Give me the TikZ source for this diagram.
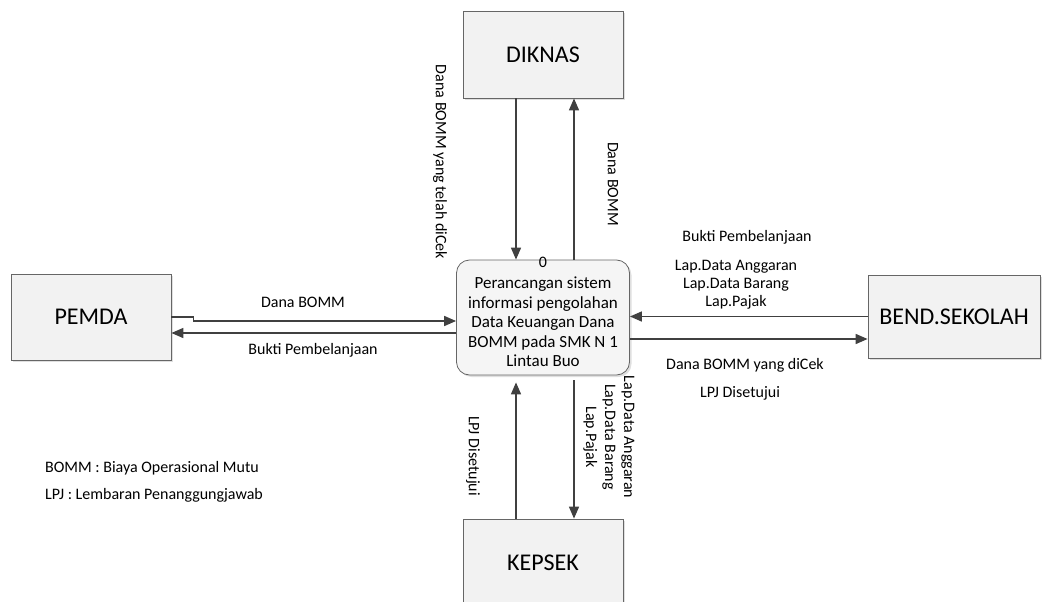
\documentclass[tikz,border=0pt]{standalone}
\usepackage{fontspec}
\setmainfont{Carlito}
\usetikzlibrary{arrows.meta,shadows}

\begin{document}
\begin{tikzpicture}[x=1pt,y=-1pt,
        entitas/.style={draw=black!60, line width=0.8pt, fill=black!5,
            drop shadow={opacity=0.25, shadow xshift=2pt, shadow yshift=-2pt},
            minimum width=160pt, minimum height=87pt, inner sep=0pt,
            font=\fontsize{24}{28}\selectfont},
        proses/.style={draw=black!60, line width=0.8pt, fill=black!4, rounded corners=13pt,
            drop shadow={opacity=0.25, shadow xshift=2pt, shadow yshift=-2pt},
            minimum width=173pt, minimum height=115pt, inner sep=0pt},
        alur/.style={draw=black!75, line width=1.6pt, -{Triangle[length=12pt,width=10pt]}},
        ket/.style={font=\fontsize{16}{19}\selectfont, align=center, inner sep=0pt}]

        \useasboundingbox (0,0) rectangle (1042,602);
        \clip (0,0) rectangle (1042,602);

        % Entitas luar
        \node[entitas] (diknas) at (543,54.5) {DIKNAS};
        \node[entitas, minimum height=86pt] (pemda) at (91,317) {PEMDA};
        \node[entitas, minimum width=172pt, minimum height=83pt] (bend) at (954,316.5) {BEND.SEKOLAH};
        \node[entitas] (kepsek) at (543,562.5) {KEPSEK};

        % Proses 0
        \node[proses] (proses) at (543,317.5) {};
        \node[ket, font=\fontsize{17}{19.5}\selectfont] (prosesteks) at (543,322)
            {Perancangan sistem\\informasi pengolahan\\Data Keuangan Dana\\BOMM pada SMK N 1\\Lintau Buo};
        \node[ket] (nol) at ([yshift=-3pt]proses.north) {0};

        % Alur DIKNAS
        \draw[alur] ([xshift=-27pt]diknas.south) -- ([xshift=-27pt]proses.north);
        \draw[alur] ([xshift=31pt]proses.north) -- ([xshift=31pt]diknas.south);

        % Alur PEMDA
        \draw[alur] (pemda.east) -- ++(22,0) |- ([yshift=-3.5pt]proses.west);
        \draw[alur] ([yshift=-15.5pt]proses.west) -- ([yshift=-16pt]pemda.east);

        % Alur BEND.SEKOLAH
        \draw[alur] (bend.west) -- (bend.west -| proses.east);
        \draw[alur] ([yshift=-21.5pt]proses.east) -- ([yshift=-22.5pt]bend.west);

        % Alur KEPSEK
        \draw[alur] ([xshift=-27pt]kepsek.north) -- ([xshift=-27pt,yshift=-7pt]proses.south);
        \draw[alur] ([xshift=31pt,yshift=-5pt]proses.south) -- ([xshift=31pt]kepsek.north);

        % Keterangan alur
        \node[ket, rotate=-90] (ketdiknas1) at (440,162) {Dana BOMM yang telah diCek};
        \node[ket, rotate=-90] (ketdiknas2) at (613,184) {Dana BOMM};
        \node[ket] (ketpemda1) at (303,302) {Dana BOMM};
        \node[ket] (ketpemda2) at (313,350) {Bukti Pembelanjaan};
        \node[ket] (ketbend1) at (747,237) {Bukti Pembelanjaan};
        \node[ket, font=\fontsize{16}{18}\selectfont] (ketbend2) at (736,285) {Lap.Data Anggaran\\Lap.Data Barang\\Lap.Pajak};
        \node[ket] (ketbend3) at (745,365) {Dana BOMM yang diCek};
        \node[ket] (ketbend4) at (740,393) {LPJ Disetujui};
        \node[ket, rotate=-90] (ketkepsek1) at (473,456) {LPJ Disetujui};
        \node[ket, rotate=-90] (ketkepsek2) at (609,437) {Lap.Data Anggaran\\Lap.Data Barang\\Lap.Pajak};

        % Legenda
        \node[ket, anchor=west] (leg1) at (45,468) {BOMM : Biaya Operasional Mutu};
        \node[ket, anchor=west] (leg2) at (45,495) {LPJ : Lembaran Penanggungjawab};

    \end{tikzpicture}
\end{document}
